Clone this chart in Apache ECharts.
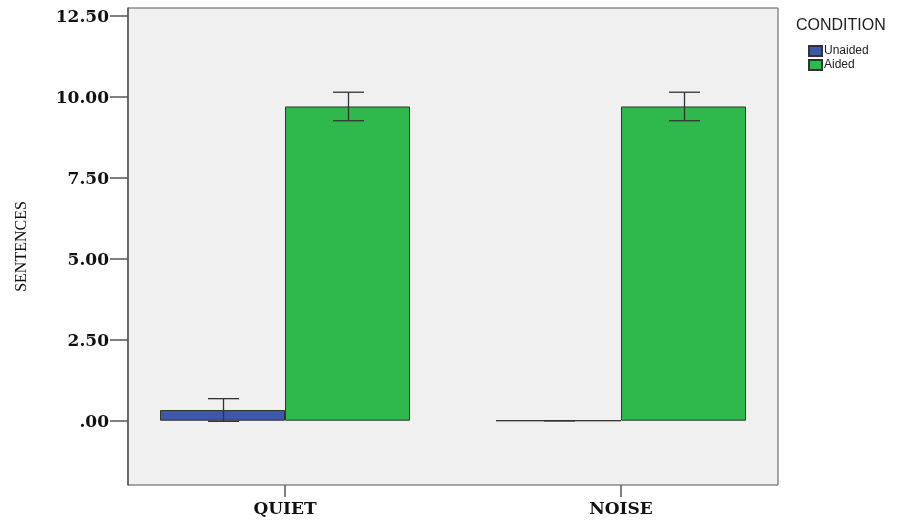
<!DOCTYPE html>
<html>
<head>
<meta charset="utf-8">
<script src="https://cdn.jsdelivr.net/npm/echarts@6/dist/echarts.min.js"></script>
<style>html,body{margin:0;padding:0;background:#fff}#c{width:910px;height:520px}</style>
</head>
<body>
<div id="c"></div>
<script>
var categories = ['QUIET', 'NOISE'];
var unaidedMean = [0.33, 0.00];
var unaidedErr = [0.35, 0.00];
var aidedMean = [9.70, 9.70];
var aidedErr = [0.44, 0.44];
var yTicks = [0, 2.5, 5, 7.5, 10, 12.5];

var chart = echarts.init(document.getElementById('c'));
var BAR_W = 125;

function errData(mean, err) {
  return mean.map(function (m, i) { return [i, m - err[i], m + err[i]]; });
}
function errSeries(name, mean, err, offset) {
  return {
    type: 'custom', name: name + ' err', xAxisIndex: 1, yAxisIndex: 1, z: 5,
    data: errData(mean, err),
    renderItem: function (params, api) {
      var lo = api.coord([api.value(0), api.value(1)]);
      var hi = api.coord([api.value(0), api.value(2)]);
      var x = Math.round(lo[0] + offset) + 0.5;
      var half = 15.5;
      var st = { stroke: '#333', lineWidth: 1.3 };
      return {
        type: 'group', children: [
          { type: 'line', shape: { x1: x, y1: hi[1], x2: x, y2: lo[1] }, style: st },
          { type: 'line', shape: { x1: x - half, y1: hi[1], x2: x + half, y2: hi[1] }, style: st },
          { type: 'line', shape: { x1: x - half, y1: lo[1], x2: x + half, y2: lo[1] }, style: st }
        ]
      };
    }
  };
}

var wideSerif = '"DejaVu Serif", "Liberation Serif", serif';
var serif = '"Liberation Serif", "Times New Roman", serif';
var sans = '"Liberation Sans", Arial, sans-serif';

chart.setOption({
  animation: false,
  grid: [
    { left: 128, top: 8, width: 650, height: 477, show: true, backgroundColor: '#f0f0f0', borderColor: '#555', borderWidth: 1 },
    { left: 117, top: 8, width: 672, height: 477, show: false }
  ],
  title: {
    text: 'CONDITION', left: 791, top: 13,
    textStyle: { fontFamily: sans, fontSize: 16, fontWeight: 'normal', color: '#222' }
  },
  legend: {
    orient: 'vertical', left: 803, top: 40, itemWidth: 13, itemHeight: 10, itemGap: 2,
    icon: 'rect',
    data: ['Unaided', 'Aided'],
    textStyle: { fontFamily: sans, fontSize: 12, color: '#222', padding: [0, 0, 0, -3] }
  },
  xAxis: [
    { type: 'value', gridIndex: 0, show: false, min: 0, max: 1 },
    {
      type: 'category', gridIndex: 1, data: categories,
      axisLine: { show: false, onZero: false },
      axisTick: { show: true, alignWithLabel: true, length: 12, lineStyle: { color: '#555', width: 1.5 } },
      axisLabel: { fontFamily: wideSerif, fontWeight: 'bold', fontSize: 17, color: '#111', margin: 16 }
    }
  ],
  yAxis: [
    {
      type: 'value', gridIndex: 0, min: -1.985, max: 12.74,
      name: 'SENTENCES', nameLocation: 'middle', nameRotate: 90, nameGap: 98,
      nameTextStyle: { fontFamily: serif, fontSize: 16, color: '#111' },
      axisLine: { show: true, lineStyle: { color: '#555', width: 1.5 } },
      axisTick: { show: true, length: 18, customValues: yTicks, lineStyle: { color: '#555', width: 1.5 } },
      axisLabel: {
        customValues: yTicks, margin: 19, verticalAlign: 'top', lineHeight: 4,
        fontFamily: wideSerif, fontWeight: 'bold', fontSize: 17, color: '#111',
        formatter: function (v) { return v === 0 ? '.00' : v.toFixed(2); }
      },
      splitLine: { show: false }
    },
    { type: 'value', gridIndex: 1, min: -1.985, max: 12.74, show: false, splitLine: { show: false } }
  ],
  series: [
    {
      type: 'bar', name: 'Unaided', xAxisIndex: 1, yAxisIndex: 1, data: unaidedMean,
      barWidth: BAR_W, barGap: '0%',
      itemStyle: { color: '#3d57ab', borderColor: '#333', borderWidth: 1 }
    },
    {
      type: 'bar', name: 'Aided', xAxisIndex: 1, yAxisIndex: 1, data: aidedMean,
      barWidth: BAR_W, barGap: '0%',
      itemStyle: { color: '#2fb84b', borderColor: '#333', borderWidth: 1 }
    },
    errSeries('Unaided', unaidedMean, unaidedErr, -BAR_W / 2),
    errSeries('Aided', aidedMean, aidedErr, BAR_W / 2)
  ]
});
</script>
</body>
</html>
